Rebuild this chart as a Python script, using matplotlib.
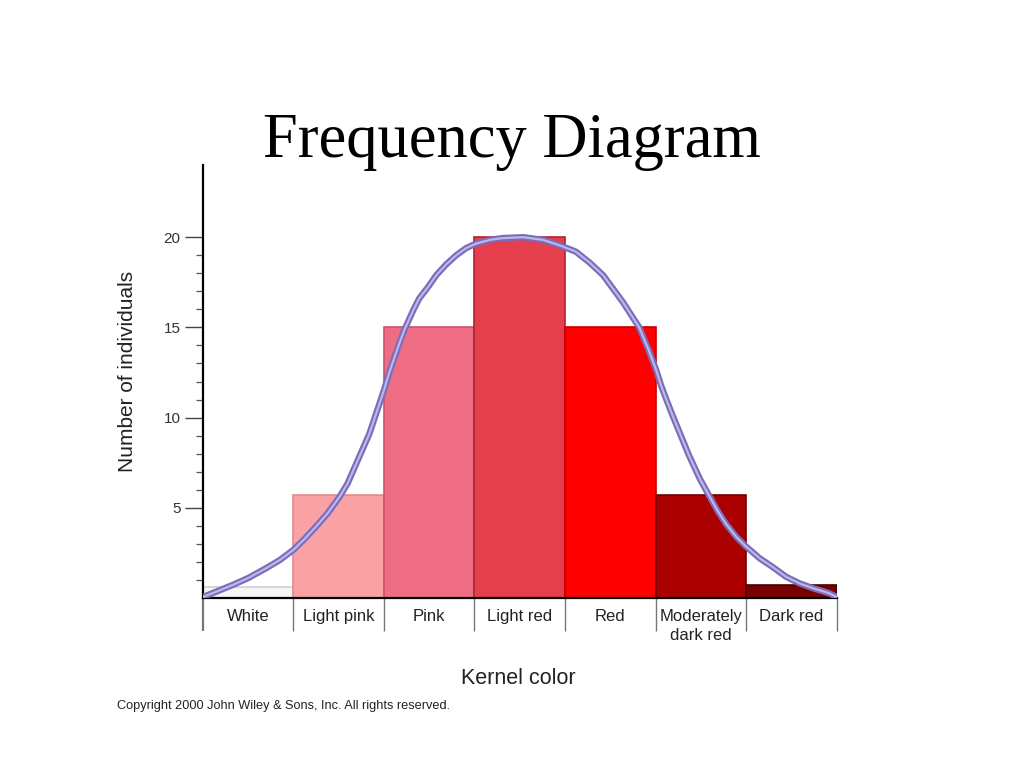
import numpy as np
import matplotlib
matplotlib.use("Agg")
import matplotlib.pyplot as plt

# bar data
categories = ["White", "Light pink", "Pink", "Light red", "Red",
              "Moderately\ndark red", "Dark red"]
counts = [0.6, 5.7, 15, 20, 15, 5.7, 0.7]
bar_colors = ["#f5f5f5", "#f9a1a5", "#ee6d84", "#e53e4d", "#ff0000",
              "#aa0000", "#780000"]
edge_colors = ["#cfcfcf", "#e48a8f", "#c95468", "#b02232", "#c40000",
               "#6e0000", "#4a0000"]

# points (x in bar widths)
curve_x = [0.0, 0.15, 0.33, 0.5, 0.7, 0.85, 1.0, 1.12, 1.25, 1.38, 1.51,
           1.6, 1.70, 1.84, 1.92, 2.0, 2.06, 2.17, 2.23, 2.32, 2.39, 2.49,
           2.58, 2.69, 2.8, 2.91, 3.02, 3.17, 3.31, 3.54, 3.76, 3.94,
           4.12, 4.27, 4.42, 4.53, 4.64, 4.73, 4.82, 4.92, 5.01, 5.06,
           5.12, 5.19, 5.28, 5.37, 5.49, 5.6, 5.69, 5.78, 5.89, 6.0,
           6.15, 6.29, 6.44, 6.59, 6.74, 6.92, 7.0]
curve_y = [0.05, 0.35, 0.72, 1.1, 1.65, 2.1, 2.66, 3.25, 3.95, 4.7, 5.6,
           6.35, 7.5, 9.1, 10.3, 11.5, 12.5, 14.1, 14.9, 15.9, 16.6, 17.25,
           17.9, 18.5, 19.0, 19.4, 19.65, 19.85, 19.95, 20.0, 19.85, 19.55,
           19.2, 18.6, 17.9, 17.15, 16.4, 15.7, 15.0, 13.8, 12.6, 11.8,
           11.0, 10.1, 9.0, 7.9, 6.6, 5.6, 4.8, 4.1, 3.4, 2.85,
           2.2, 1.73, 1.18, 0.81, 0.54, 0.26, 0.05]

y_major = [5, 10, 15, 20]
y_minor = [1, 2, 3, 4, 6, 7, 8, 9, 11, 12, 13, 14, 16, 17, 18, 19]


def make_chart():
    # draws the bars, the curve and all labels, saves out.png
    fig = plt.figure(figsize=(10.24, 7.68), dpi=100)
    ax = fig.add_axes([0.198, 0.2214, 0.619, 0.5637])

    x = np.arange(len(categories)) + 0.5
    ax.bar(x, counts, width=1.0, color=bar_colors, edgecolor=edge_colors,
           linewidth=1.2, zorder=2)

    # curve: dark outline with a lighter core
    ax.plot(curve_x, curve_y, color="#7b6cb8", linewidth=4.6,
            solid_capstyle="round", solid_joinstyle="round", zorder=3)
    ax.plot(curve_x, curve_y, color="#bdb6ea", linewidth=1.6,
            solid_capstyle="round", solid_joinstyle="round", zorder=4)

    ax.set_xlim(0, 7)
    ax.set_ylim(0, 24)

    for side in ["top", "right"]:
        ax.spines[side].set_visible(False)
    ax.spines["left"].set_linewidth(1.6)
    ax.spines["bottom"].set_linewidth(1.6)

    # y ticks: major with labels, minor every unit up to 19
    ax.set_yticks(y_major)
    ax.set_yticklabels([str(v) for v in y_major], fontsize=11,
                       color="#333333", family="Liberation Sans")
    ax.set_yticks(y_minor, minor=True)
    ax.tick_params(axis="y", which="major", length=13, width=1.0,
                   color="#444444", pad=3)
    ax.tick_params(axis="y", which="minor", length=5, width=0.9,
                   color="#555555")

    # x: separators between categories, labels centred under bars
    ax.set_xticks(np.arange(0, 8))
    ax.set_xticklabels([""] * 8)
    ax.tick_params(axis="x", which="major", length=24, width=1.0,
                   color="#777777")
    ax.set_xticks(x, minor=True)
    ax.set_xticklabels(categories, minor=True, fontsize=12,
                       family="Liberation Sans", color="#222222",
                       linespacing=1.3)
    ax.tick_params(axis="x", which="minor", length=0, pad=8)
    ax.xaxis.get_major_ticks()[0].tick1line.set_color("black")
    ax.xaxis.get_major_ticks()[0].tick1line.set_markeredgewidth(1.6)

    ax.set_ylabel("Number of individuals", fontsize=15,
                  family="Liberation Sans", color="#222222")
    ax.yaxis.set_label_coords(-0.104, 0.524)

    fig.text(0.506, 0.117, "Kernel color", ha="center", va="center",
             fontsize=15.5, family="Liberation Sans", color="#222222")
    fig.text(0.114, 0.081,
             "Copyright 2000 John Wiley & Sons, Inc. All rights reserved.",
             ha="left", va="center", fontsize=9.2, family="Liberation Sans",
             color="#222222")
    fig.text(0.5, 0.815, "Frequency Diagram", ha="center", va="center",
             fontsize=45, family="Liberation Serif", color="black")

    fig.savefig("out.png", dpi=100)


def main():
    make_chart()


if __name__ == "__main__":
    main()
